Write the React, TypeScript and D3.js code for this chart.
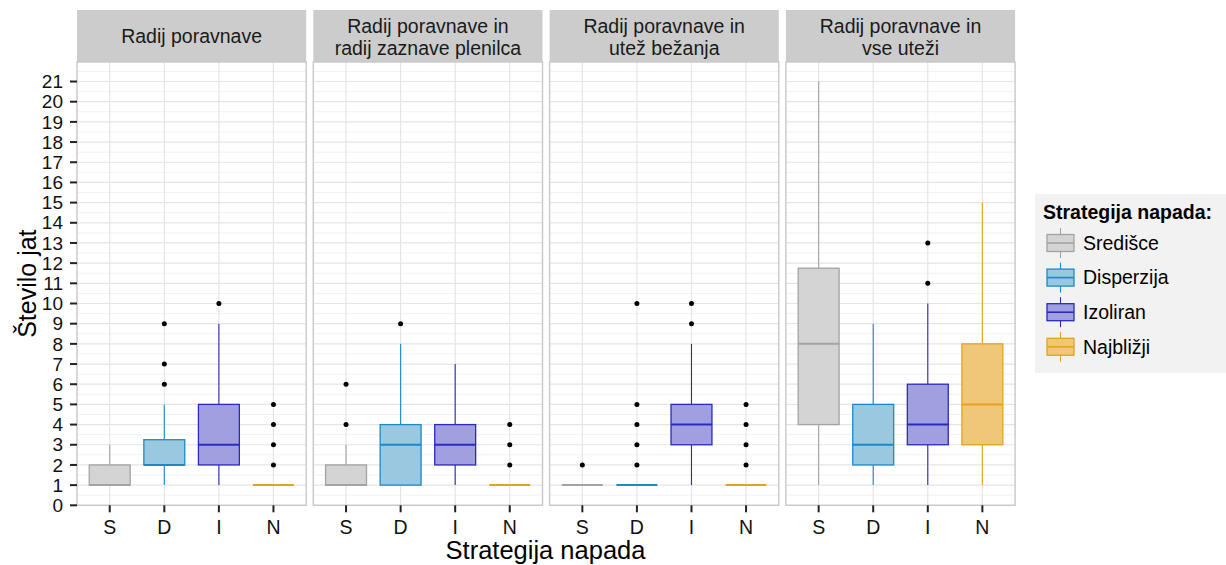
import React, { useEffect } from "react";
import * as d3 from "d3";

// ---- data ----
const facetTitles: string[][] = [
  ["Radij poravnave"],
  ["Radij poravnave in", "radij zaznave plenilca"],
  ["Radij poravnave in", "utež bežanja"],
  ["Radij poravnave in", "vse uteži"],
];
const strategies = ["S", "D", "I", "N"];
const legendLabels = ["Središce", "Disperzija", "Izoliran", "Najbližji"];
const yTicks = d3.range(0, 22);

const whiskerLow = [
  [1, 1, 1, 1],
  [1, 1, 1, 1],
  [1, 1, 1, 1],
  [1, 1, 1, 1],
];
const q1 = [
  [1, 2, 2, 1],
  [1, 1, 2, 1],
  [1, 1, 3, 1],
  [4, 2, 3, 3],
];
const median = [
  [1, 2, 3, 1],
  [1, 3, 3, 1],
  [1, 1, 4, 1],
  [8, 3, 4, 5],
];
const q3 = [
  [2, 3.25, 5, 1],
  [2, 4, 4, 1],
  [1, 1, 5, 1],
  [11.75, 5, 6, 8],
];
const whiskerHigh = [
  [3, 5, 9, 1],
  [3, 8, 7, 1],
  [1, 1, 8, 1],
  [21, 9, 10, 15],
];
const outliers: number[][][] = [
  [[], [6, 7, 9], [10], [2, 3, 4, 5]],
  [[4, 6], [9], [], [2, 3, 4]],
  [[2], [2, 3, 4, 5, 10], [9, 10], [2, 3, 4, 5]],
  [[], [], [11, 13], []],
];

const fills = ["#d4d4d4", "#9ac8e0", "#a0a0e0", "#f0c678"];
const strokes = ["#a3a3a3", "#1a8ac6", "#2a2abf", "#e8a21a"];

const FONT = "'Liberation Sans', Arial, Helvetica, sans-serif";

export default function App() {
  useEffect(() => {
    document.body.style.margin = "0";
  }, []);

  const W = 1226;
  const H = 565;
  const panelLeft = 77;
  const panelW = 229.2;
  const gap = 7.1;
  const stripTop = 10;
  const panelTop = 62;
  const panelBottom = 505.3;

  const y = d3.scaleLinear().domain([0, 22]).range([panelBottom, panelBottom - 22 * 20.18]);
  const minorTicks = d3.range(0.5, 22, 1);

  const panels = facetTitles.map((t, fi) => {
    const x0 = panelLeft + fi * (panelW + gap);
    const x = d3
      .scaleBand()
      .domain(strategies)
      .range([x0, x0 + panelW])
      .paddingOuter(0.1)
      .paddingInner(0);
    return { t, fi, x0, x };
  });

  return (
    <svg
      width={W}
      height={H}
      style={{ position: "absolute", left: 0, top: 0, display: "block" }}
      fontFamily={FONT}
    >
      <rect x={0} y={0} width={W} height={H} fill="#ffffff" />
      {panels.map(({ t, fi, x0, x }) => {
        const bw = x.bandwidth();
        const cx = (s: string) => (x(s) as number) + bw / 2;
        const boxW = bw * 0.75;
        return (
          <g key={fi}>
            {/* strip */}
            <rect x={x0} y={stripTop} width={panelW} height={panelTop - stripTop} fill="#cccccc" />
            {t.map((line, li) => (
              <text
                key={li}
                x={x0 + panelW / 2}
                y={t.length === 1 ? 43.3 : 33 + li * 22}
                textAnchor="middle"
                fontSize={19.5}
                fill="#1a1a1a"
              >
                {line}
              </text>
            ))}
            {/* panel background */}
            <rect x={x0} y={panelTop} width={panelW} height={panelBottom - panelTop} fill="#ffffff" />
            {minorTicks.map((v) => (
              <line key={"mn" + v} x1={x0} x2={x0 + panelW} y1={y(v)} y2={y(v)} stroke="#f2f2f2" strokeWidth={1} />
            ))}
            {yTicks.map((v) => (
              <line key={"mj" + v} x1={x0} x2={x0 + panelW} y1={y(v)} y2={y(v)} stroke="#e5e5e5" strokeWidth={1.2} />
            ))}
            {strategies.map((s) => (
              <line key={"vx" + s} x1={cx(s)} x2={cx(s)} y1={panelTop} y2={panelBottom} stroke="#e5e5e5" strokeWidth={1.2} />
            ))}
            {/* boxes */}
            {strategies.map((s, si) => {
              const c = cx(s);
              const st = strokes[si];
              return (
                <g key={"b" + s}>
                  <line x1={c} x2={c} y1={y(q3[fi][si])} y2={y(whiskerHigh[fi][si])} stroke={st} strokeWidth={1.1} />
                  <line x1={c} x2={c} y1={y(q1[fi][si])} y2={y(whiskerLow[fi][si])} stroke={st} strokeWidth={1.1} />
                  <rect
                    x={c - boxW / 2}
                    y={y(q3[fi][si])}
                    width={boxW}
                    height={Math.max(0, y(q1[fi][si]) - y(q3[fi][si]))}
                    fill={fills[si]}
                    stroke={st}
                    strokeWidth={1.3}
                  />
                  <line
                    x1={c - boxW / 2}
                    x2={c + boxW / 2}
                    y1={y(median[fi][si])}
                    y2={y(median[fi][si])}
                    stroke={st}
                    strokeWidth={2}
                  />
                  {outliers[fi][si].map((o, oi) => (
                    <circle key={oi} cx={c} cy={y(o)} r={2.5} fill="#000000" />
                  ))}
                </g>
              );
            })}
            <rect
              x={x0}
              y={panelTop}
              width={panelW}
              height={panelBottom - panelTop}
              fill="none"
              stroke="#c8c8c8"
              strokeWidth={1.4}
            />
            {/* x axis ticks */}
            {strategies.map((s) => (
              <g key={"xt" + s}>
                <line x1={cx(s)} x2={cx(s)} y1={panelBottom} y2={panelBottom + 7} stroke="#222" strokeWidth={2} />
                <text x={cx(s)} y={534} textAnchor="middle" fontSize={19.5} fill="#111">
                  {s}
                </text>
              </g>
            ))}
          </g>
        );
      })}
      {/* y axis */}
      {yTicks.map((v) => (
        <g key={"yt" + v}>
          <line x1={70} x2={77} y1={y(v)} y2={y(v)} stroke="#222" strokeWidth={2} />
          <text x={63} y={y(v)} dy="0.35em" textAnchor="end" fontSize={19} fill="#111">
            {v}
          </text>
        </g>
      ))}
      <text
        transform={`translate(36, ${(panelTop + panelBottom) / 2}) rotate(-90)`}
        textAnchor="middle"
        fontSize={25}
        fill="#000"
      >
        Število jat
      </text>
      <text x={545.5} y={559} textAnchor="middle" fontSize={25.5} fill="#000">
        Strategija napada
      </text>
      {/* legend */}
      <rect x={1035} y={194} width={191} height={179} fill="#f2f2f2" />
      <text x={1043} y={219} fontSize={19.5} fontWeight="bold" fill="#000">
        Strategija napada:
      </text>
      {legendLabels.map((lab, i) => {
        const cy = 243 + i * 34.6;
        const kx = 1047;
        const kw = 27;
        return (
          <g key={lab}>
            <line x1={kx + kw / 2} x2={kx + kw / 2} y1={cy - 15} y2={cy + 15} stroke={strokes[i]} strokeWidth={1.1} />
            <rect x={kx} y={cy - 8.5} width={kw} height={17} fill={fills[i]} stroke={strokes[i]} strokeWidth={1.3} />
            <line x1={kx} x2={kx + kw} y1={cy} y2={cy} stroke={strokes[i]} strokeWidth={1.6} />
            <text x={1083} y={cy} dy="0.35em" fontSize={19.5} fill="#000">
              {lab}
            </text>
          </g>
        );
      })}
    </svg>
  );
}
